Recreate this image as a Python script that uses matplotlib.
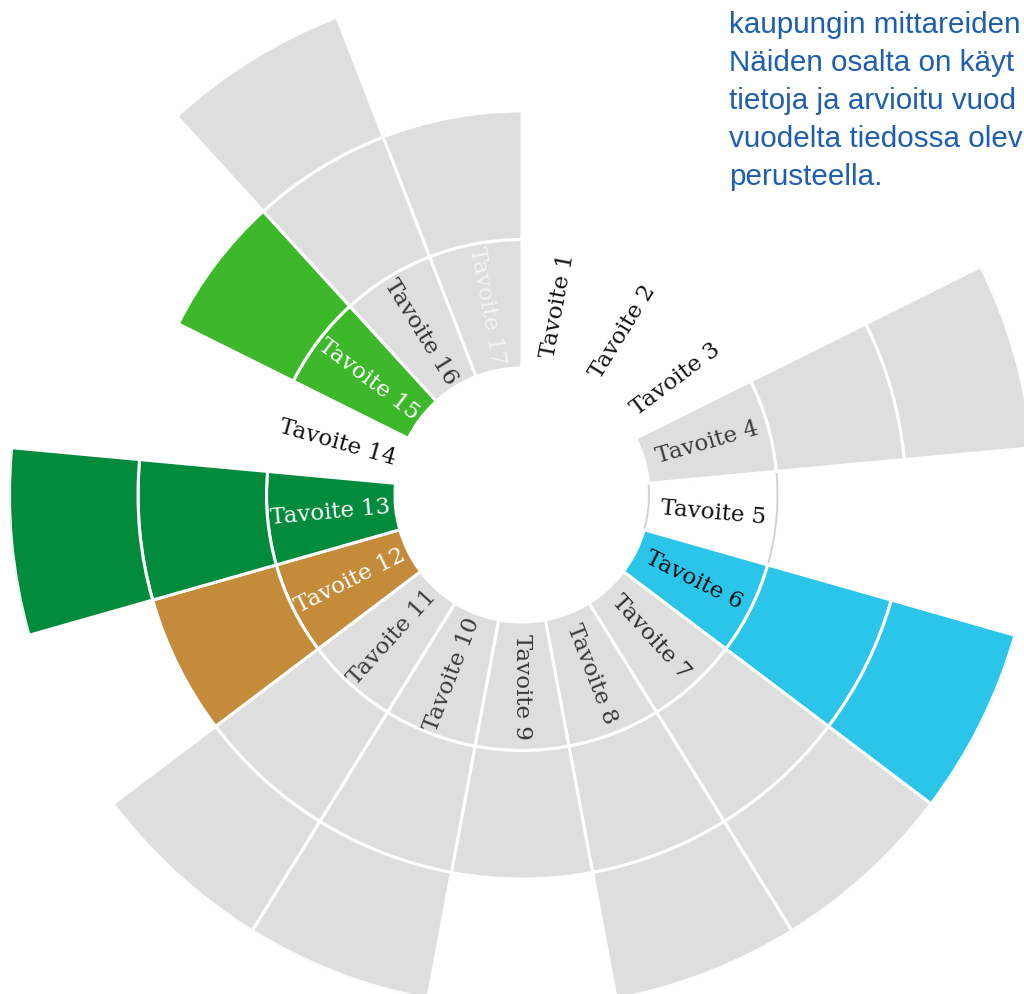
import numpy as np
import matplotlib
matplotlib.use("Agg")
import matplotlib.pyplot as plt

# ---- data -------------------------------------------------------------
goals = [f"Tavoite {i}" for i in range(1, 18)]
rings = [0, 0, 0, 3, 1, 3, 3, 3, 2, 3, 3, 2, 3, 0, 2, 3, 2]
fill_colors = ["#ffffff", "#ffffff", "#ffffff", "#dedede", "#ffffff",
               "#2cc5ea", "#dedede", "#dedede", "#dedede", "#dedede",
               "#dedede", "#c48b3b", "#038b3d", "#ffffff", "#3db82a",
               "#dedede", "#dedede"]
label_colors = ["#111111", "#111111", "#111111", "#3a3a3a", "#111111",
                "#111111", "#2e2e2e", "#3a3a3a", "#3a3a3a", "#3a3a3a",
                "#3a3a3a", "#ffffff", "#ffffff", "#111111", "#ffffff",
                "#333333", "#f4f4f4"]
note_lines = ["kaupungin mittareiden", "Näiden osalta on käyt",
              "tietoja ja arvioitu vuod", "vuodelta tiedossa olev",
              "perusteella."]

# ---- layout -----------------------------------------------------------
W, H = 1024, 994
fig = plt.figure(figsize=(W / 100, H / 100), dpi=100)
cx, cy = 522, 495
R0, RW = 127, 128.5
RMAX = R0 + 3 * RW
ax = fig.add_axes([(cx - RMAX) / W, (H - cy - RMAX) / H, 2 * RMAX / W, 2 * RMAX / H],
                  projection="polar")
ax.set_theta_zero_location("N")
ax.set_theta_direction(-1)
ax.set_ylim(0, RMAX)
ax.axis("off")

n = len(goals)
step = 2 * np.pi / n
for i, (g, nr) in enumerate(zip(goals, rings)):
    theta = (i + 0.5) * step
    for k in range(nr):
        if i == 4:
            ax.bar(theta, RW, width=step, bottom=R0 + k * RW, color=fill_colors[i],
                   edgecolor="#d2d2d2", linewidth=1.4, zorder=1)
        else:
            ax.bar(theta, RW, width=step, bottom=R0 + k * RW, color=fill_colors[i],
                   edgecolor="white", linewidth=2.2, zorder=2)
    deg = np.degrees(theta)
    rot = 90 - deg
    if deg > 180:
        rot += 180
    ax.text(theta, R0 + RW / 2 + 1, g, rotation=rot, rotation_mode="anchor",
            ha="center", va="center", fontsize=16.5, family="DejaVu Serif",
            color=label_colors[i], zorder=5)

for j, line in enumerate(note_lines):
    fig.text(729 / W, 1 - (33 + 38 * j) / H, line, ha="left", va="baseline",
             fontsize=21.3, family=["Liberation Sans", "DejaVu Sans"],
             color="#1d5eb3")

fig.savefig("out.png", dpi=100, facecolor="white")
